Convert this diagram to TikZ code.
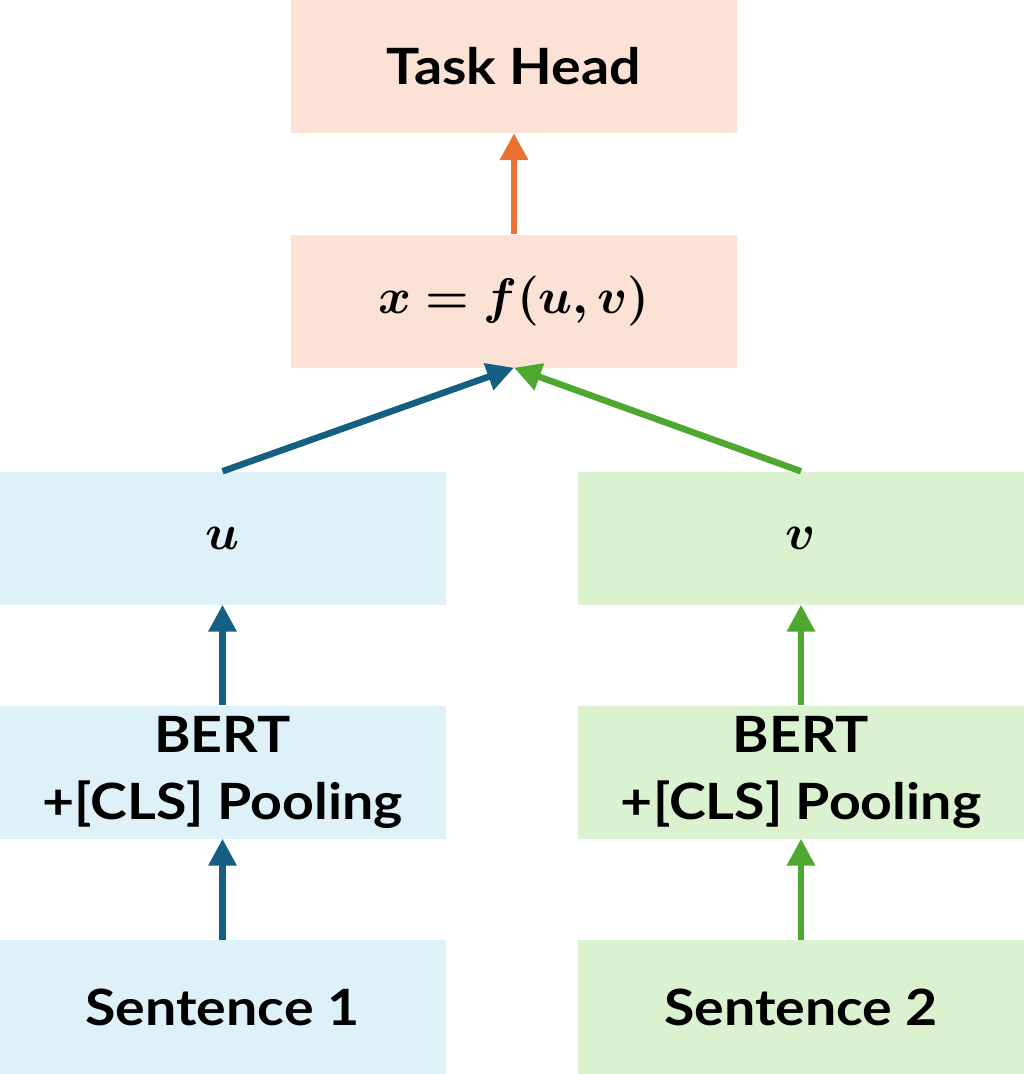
\RequirePackage{fix-cm}
\documentclass[tikz,border=0pt]{standalone}
\usepackage{amsmath,bm}
\usepackage{fontspec}
\setmainfont{Lato}[BoldFeatures={FakeStretch=1.11}]
\usetikzlibrary{arrows.meta}
\definecolor{pinkfill}{HTML}{FBE2D5}
\definecolor{bluefill}{HTML}{DEF1F9}
\definecolor{greenfill}{HTML}{DAF2D0}
\definecolor{bluearr}{HTML}{156082}
\definecolor{greenarr}{HTML}{4EA72E}
\definecolor{orangearr}{HTML}{E97132}
\tikzset{
  box/.style={rectangle, draw=none, minimum width=446pt, minimum height=133pt, inner sep=0pt, align=center,
    font=\fontsize{50}{67}\selectfont\bfseries},
  pinkbox/.style={box, fill=pinkfill},
  bluebox/.style={box, fill=bluefill},
  greenbox/.style={box, fill=greenfill},
  arr/.style={line width=6.5pt, -{Triangle[length=27pt,width=27pt]}},
  bluearrow/.style={arr, draw=bluearr, fill=bluearr},
  greenarrow/.style={arr, draw=greenarr, fill=greenarr},
  orangearrow/.style={arr, draw=orangearr, fill=orangearr},
  mathtext/.style={font=\fontsize{50}{60}\selectfont}
}
\begin{document}
\begin{tikzpicture}[x=1pt,y=-1pt]
\useasboundingbox (0,0) rectangle (1024,1074);
\node[pinkbox] (th) at (514,66.5) {Task Head};
\node[pinkbox, mathtext] (fx) at (514,301) {$\bm{x = f(u,v)}$};
\node[bluebox, mathtext] (u) at (222.5,538) {$\bm{u}$};
\node[greenbox, mathtext] (v) at (801,538) {$\bm{v}$};
\node[bluebox] (bl) at (222.5,772) {BERT\\+[CLS] Pooling};
\node[greenbox] (br) at (801,772) {BERT\\+[CLS] Pooling};
\node[bluebox, minimum height=134pt] (s1) at (222.5,1007) {Sentence 1};
\node[greenbox, minimum height=134pt] (s2) at (801,1007) {Sentence 2};
\draw[bluearrow] (s1.north) -- (bl.south);
\draw[bluearrow] (bl.north) -- (u.south);
\draw[greenarrow] (s2.north) -- (br.south);
\draw[greenarrow] (br.north) -- (v.south);
\draw[bluearrow] (u.north) -- (fx.south);
\draw[greenarrow] (v.north) -- (fx.south);
\draw[orangearrow] (fx.north) -- (th.south);
\end{tikzpicture}
\end{document}
